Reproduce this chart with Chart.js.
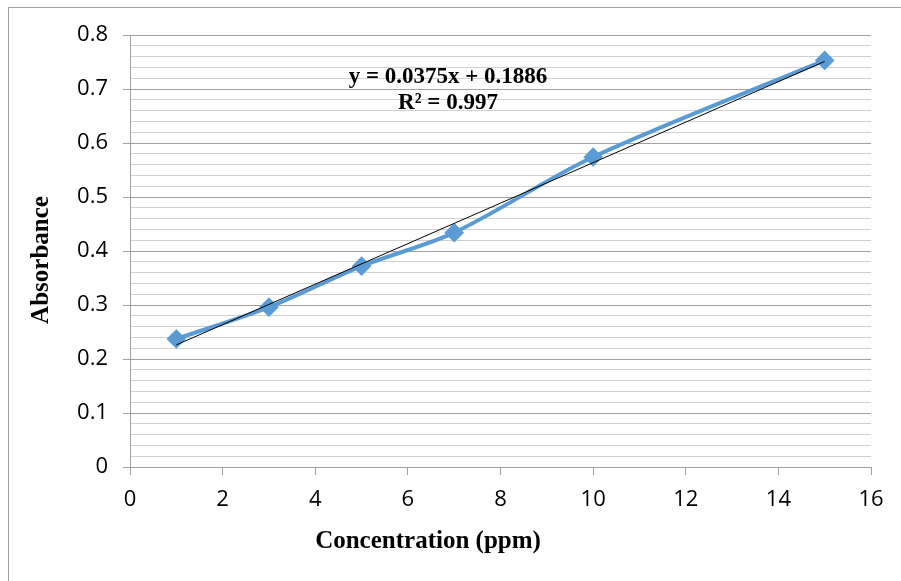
<!DOCTYPE html>
<html>
<head>
<meta charset="utf-8">
<script src="https://cdn.jsdelivr.net/npm/chart.js@4/dist/chart.umd.min.js"></script>
<style>
  html, body { margin: 0; padding: 0; background: #fff; overflow: hidden; }
  #frame { position: absolute; left: 8px; top: 7px; width: 1200px; height: 1200px;
           border-left: 1px solid #a0a0a0; border-top: 1px solid #a0a0a0; }
  #wrap { position: absolute; left: 0; top: 0; width: 901px; height: 581px; }
</style>
</head>
<body>
<div id="frame"></div>
<div id="wrap"><canvas id="c" width="901" height="581"></canvas></div>
<script>
// ---- data ----
const concentrations = [1, 3, 5, 7, 10, 15];
const absorbances = [0.237, 0.296, 0.372, 0.434, 0.574, 0.753];
const trendSlope = 0.0375;
const trendIntercept = 0.1886;
const trendText = ["y = 0.0375x + 0.1886", "R\u00B2 = 0.997"];
const xTitle = "Concentration (ppm)";
const yTitle = "Absorbance";

const seriesPoints = concentrations.map((x, i) => ({x: x, y: absorbances[i]}));
const xFirst = concentrations[0], xLast = concentrations[concentrations.length - 1];
const trendPoints = [
  {x: xFirst, y: trendSlope * xFirst + trendIntercept},
  {x: xLast, y: trendSlope * xLast + trendIntercept}
];

const isMajor = v => Math.abs(Math.round(v * 10) - v * 10) < 1e-6;

const textPlugin = {
  id: 'texts',
  afterDraw(chart) {
    const ctx = chart.ctx;
    ctx.save();
    ctx.fillStyle = '#000';
    ctx.textAlign = 'center';
    ctx.textBaseline = 'middle';
    ctx.font = 'bold 23px "Liberation Serif", "Times New Roman", serif';
    ctx.fillText(trendText[0], 448, 77);
    ctx.fillText(trendText[1], 448, 103);
    ctx.font = 'bold 25px "Liberation Serif", "Times New Roman", serif';
    ctx.fillText(xTitle, 428, 542);
    ctx.translate(42, 260);
    ctx.rotate(-Math.PI / 2);
    ctx.fillText(yTitle, 0, 0);
    ctx.restore();
  }
};

new Chart(document.getElementById('c'), {
  type: 'scatter',
  data: {
    datasets: [
      {
        data: seriesPoints,
        showLine: true,
        borderColor: '#5b9bd5',
        backgroundColor: '#5b9bd5',
        borderWidth: 4,
        tension: 0.3,
        pointStyle: 'rectRot',
        pointRadius: 7,
        pointHoverRadius: 7,
        order: 2
      },
      {
        data: trendPoints,
        showLine: true,
        borderColor: '#000',
        borderWidth: 1,
        pointRadius: 0,
        tension: 0,
        order: 1
      }
    ]
  },
  options: {
    responsive: false,
    animation: false,
    events: [],
    layout: { padding: { top: 35, right: 30, left: 0, bottom: 0 } },
    plugins: { legend: { display: false }, tooltip: { enabled: false } },
    scales: {
      x: {
        type: 'linear',
        min: 0, max: 16,
        afterFit(s) { s.height = 114; },
        ticks: { stepSize: 2, color: '#000', padding: 12,
                 font: { family: '"Open Sans", sans-serif', size: 22 } },
        grid: { drawOnChartArea: false, drawTicks: true, tickLength: 8, color: '#a0a0a0' },
        border: { color: '#a0a0a0' }
      },
      y: {
        type: 'linear',
        min: 0, max: 0.8,
        afterFit(s) { s.width = 130; },
        ticks: {
          stepSize: 0.02, autoSkip: false, color: '#000', padding: 15,
          font: { family: '"Open Sans", sans-serif', size: 22 },
          callback: v => isMajor(v) ? (Math.round(v * 10) / 10).toString() : ''
        },
        grid: {
          tickLength: 7,
          color: ctx => isMajor(ctx.tick.value) ? '#a0a0a0' : '#d0d0d0',
          tickColor: ctx => isMajor(ctx.tick.value) ? '#a0a0a0' : 'rgba(0,0,0,0)'
        },
        border: { color: '#a0a0a0' }
      }
    }
  },
  plugins: [textPlugin]
});
</script>
</body>
</html>
